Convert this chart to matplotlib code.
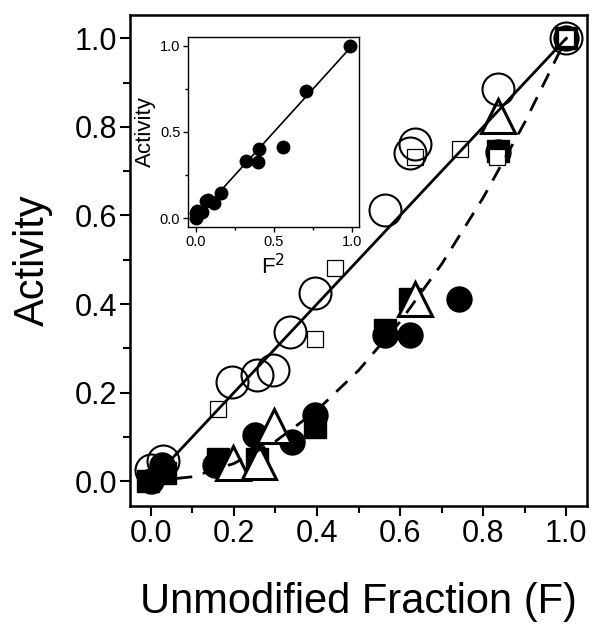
import matplotlib
matplotlib.use("Agg")
import matplotlib.pyplot as plt
from matplotlib.ticker import MultipleLocator

plt.rcParams['font.family'] = ['Liberation Sans', 'DejaVu Sans']

# open circles
oc_f = [0.0, 0.03, 0.196, 0.255, 0.295, 0.335, 0.395, 0.564, 0.624, 0.635, 0.835, 1.0]
oc_act = [0.025, 0.045, 0.224, 0.239, 0.251, 0.337, 0.424, 0.612, 0.742, 0.762, 0.885, 1.0]

# open squares
os_f = [0.162, 0.395, 0.443, 0.635, 0.745, 0.833, 1.0]
os_act = [0.164, 0.32, 0.481, 0.731, 0.751, 0.731, 1.0]

# filled circles
fc_f = [0.0, 0.026, 0.154, 0.25, 0.339, 0.395, 0.564, 0.624, 0.743, 0.835, 1.0]
fc_act = [0.0, 0.036, 0.036, 0.104, 0.089, 0.149, 0.33, 0.331, 0.412, 0.743, 1.0]

# filled squares
fs_f = [-0.006, 0.034, 0.162, 0.255, 0.395, 0.564, 0.624, 0.835, 1.0]
fs_act = [0.0, 0.018, 0.051, 0.051, 0.123, 0.341, 0.412, 0.745, 1.0]

# open triangles
ot_f = [0.198, 0.26, 0.296, 0.636, 0.835]
ot_act = [0.042, 0.043, 0.125, 0.412, 0.824]

# fits: linear (solid) and F^2 (dashed)
lin_f = [0.0, 1.0]
lin_act = [0.0, 1.0]
sq_f = [0.0, 0.1, 0.2, 0.3, 0.4, 0.5, 0.6, 0.7, 0.8, 0.9, 1.0]
sq_act = [0.0, 0.01, 0.04, 0.09, 0.16, 0.25, 0.36, 0.49, 0.64, 0.81, 1.0]

# inset: activity vs F^2
in_f2 = [0.0, 0.0, 0.005, 0.036, 0.065, 0.075, 0.115, 0.158, 0.32, 0.395, 0.406, 0.56, 0.703, 0.99]
in_act = [0.0, 0.027, 0.04, 0.037, 0.10, 0.105, 0.089, 0.147, 0.33, 0.327, 0.40, 0.41, 0.74, 1.0]

fig = plt.figure(figsize=(6, 6.3), dpi=100)
ax = fig.add_axes([0.2167, 0.1968, 0.7617, 0.779])

ax.plot(fc_f, fc_act, 'o', ms=18, color='black', zorder=2)
ax.plot(fs_f, fs_act, 's', ms=16, color='black', zorder=2)
ax.plot(os_f, os_act, 's', ms=12, mfc='white', mec='black', mew=0.9, zorder=3)
ax.plot(ot_f, ot_act, '^', ms=25, mfc='white', mec='black', mew=2.2, zorder=3)
ax.plot(oc_f, oc_act, 'o', ms=23, mfc='none', mec='black', mew=1.5, zorder=4)
ax.plot(lin_f, lin_act, '-', color='black', lw=2, zorder=5)
ax.plot(sq_f, sq_act, '--', color='black', lw=2, dashes=(5.5, 4), zorder=5)

ax.set_xlim(-0.05, 1.05)
ax.set_ylim(-0.056, 1.052)
ax.xaxis.set_major_locator(MultipleLocator(0.2))
ax.xaxis.set_minor_locator(MultipleLocator(0.1))
ax.yaxis.set_major_locator(MultipleLocator(0.2))
ax.yaxis.set_minor_locator(MultipleLocator(0.1))
ax.tick_params(which='major', direction='out', length=7, width=1.5, labelsize=22, pad=2)
ax.tick_params(which='minor', direction='out', length=5, width=1.5)
for s in ax.spines.values():
    s.set_linewidth(1.8)
ax.set_xlabel('Unmodified Fraction (F)', fontsize=30, labelpad=24)
ax.set_ylabel('Activity', fontsize=30, labelpad=16)

# inset
ins = fig.add_axes([0.3133, 0.6397, 0.285, 0.3016])
ins.plot(in_f2, in_act, 'o', ms=9, color='black')
ins.plot(lin_f, lin_act, '-', color='black', lw=1.2)
ins.set_xlim(-0.051, 1.045)
ins.set_ylim(-0.052, 1.052)
ins.xaxis.set_major_locator(MultipleLocator(0.5))
ins.xaxis.set_minor_locator(MultipleLocator(0.25))
ins.yaxis.set_major_locator(MultipleLocator(0.5))
ins.yaxis.set_minor_locator(MultipleLocator(0.25))
ins.tick_params(which='major', direction='out', length=3.5, width=1, labelsize=10.5, pad=2)
ins.tick_params(which='minor', direction='out', length=2.5, width=1)
for s in ins.spines.values():
    s.set_linewidth(1)
ins.set_xlabel('F$^2$', fontsize=16, labelpad=4)
ins.set_ylabel('Activity', fontsize=16, labelpad=3)

fig.savefig('out.png', dpi=100)
